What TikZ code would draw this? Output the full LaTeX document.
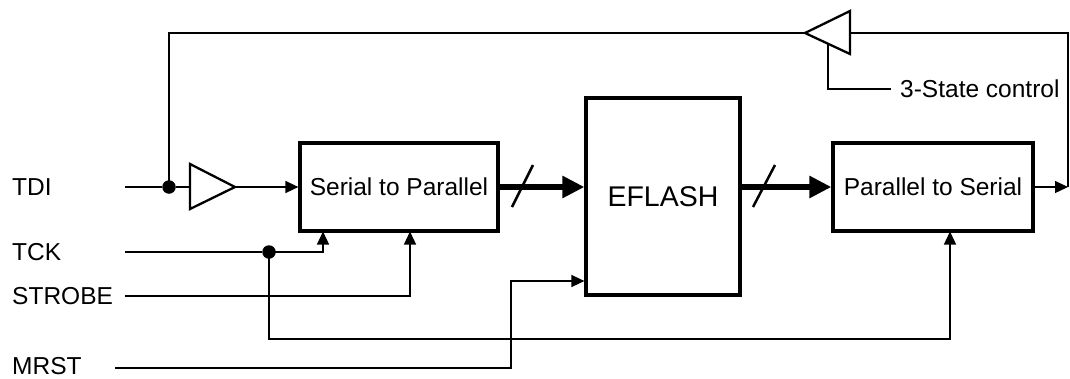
\documentclass[tikz,border=0pt]{standalone}
\usepackage{fontspec}
\setmainfont{Liberation Sans}
\usetikzlibrary{arrows.meta}
\begin{document}
\begin{tikzpicture}[x=1pt,y=-1pt,
 box/.style={draw,line width=3.2pt,inner sep=0pt,font=\fontsize{24.5}{29}\selectfont},
 wire/.style={line width=1.3pt},
 sig/.style={wire,-{Triangle[length=13pt,width=12pt]}},
 bus/.style={line width=6.5pt,-{Triangle[length=22pt,width=21pt]}},
 slash/.style={line width=2.5pt},
 buf/.style={line width=2.3pt,line join=miter},
 lbl/.style={font=\fontsize{24.5}{29}\selectfont,anchor=west,inner sep=0pt},
 dot/.style={circle,fill,inner sep=0pt,minimum size=13.5pt},
]
\useasboundingbox (0,0) rectangle (1070,378);

% blocks
\node[box,minimum width=198pt,minimum height=88pt] (s2p) at (399,187) {Serial to Parallel};
\node[box,minimum width=154pt,minimum height=197pt,font=\fontsize{28.5}{33}\selectfont] (eflash) at (663,196.5) {EFLASH};
\node[box,minimum width=200pt,minimum height=88pt] (p2s) at (933,187) {Parallel to Serial};

% labels
\node[lbl] (tdi) at (12,187) {TDI};
\node[lbl] (tck) at (12,252) {TCK};
\node[lbl] (strobe) at (12,296) {STROBE};
\node[lbl] (mrst) at (12,366) {MRST};
\node[lbl] (tsc) at (900,89) {3-State control};

% free ends and junctions
\coordinate (tdiin) at (125,187);
\coordinate (tckin) at (125,252);
\coordinate (strin) at (125,296);
\coordinate (mrstin) at (115,368);
\coordinate (tscend) at (891,89);
\node[dot] (j1) at (169,187) {};
\node[dot] (j2) at (269,252) {};

% input buffer
\coordinate (b1a) at (190,164);
\coordinate (b1b) at (190,209);
\coordinate (b1in) at (190,187);
\coordinate (b1out) at (235,187);
\draw[buf] (b1a) -- (b1out) -- (b1b) -- cycle;

% feedback tri-state buffer
\coordinate (b2out) at (805,33);
\coordinate (b2a) at (850,11);
\coordinate (b2b) at (850,54);
\coordinate (b2in) at (850,33);
\coordinate (b2en) at (828,43.7);
\draw[buf] (b2out) -- (b2a) -- (b2b) -- cycle;
\coordinate (fbR) at (1068,33);
\coordinate (outR) at (1068,187);

% TDI path
\draw[wire] (tdiin) -- (j1) -- (b1in);
\draw[sig] (b1out) -- (s2p.west);
\draw[wire] (j1.center) -- (169,33) -- (b2out);
\draw[wire] (b2in) -- (fbR) -- (outR);
\draw[sig] (p2s.east) -- (outR);
\draw[wire] (b2en) -- (828,89) -- (tscend);

% buses
\draw[bus] (s2p.east) -- (eflash.west |- s2p.east);
\draw[bus] (eflash.east |- p2s.west) -- (p2s.west);
\draw[slash] (512,207) -- (533,165);
\draw[slash] (753,207) -- (775,165);

% TCK
\draw[wire] (tckin) -- (j2);
\draw[sig] (j2.center) -- (323,252) -- (323,231.5);
\draw[sig] (j2.center) -- (269,339) -- (950,339) -- (950,231.5);

% STROBE
\draw[sig] (strin) -- (410,296) -- (410,231.5);

% MRST
\draw[sig] (mrstin) -- (511,368) -- (511,281) -- (eflash.west |- 0,281);
\end{tikzpicture}
\end{document}
